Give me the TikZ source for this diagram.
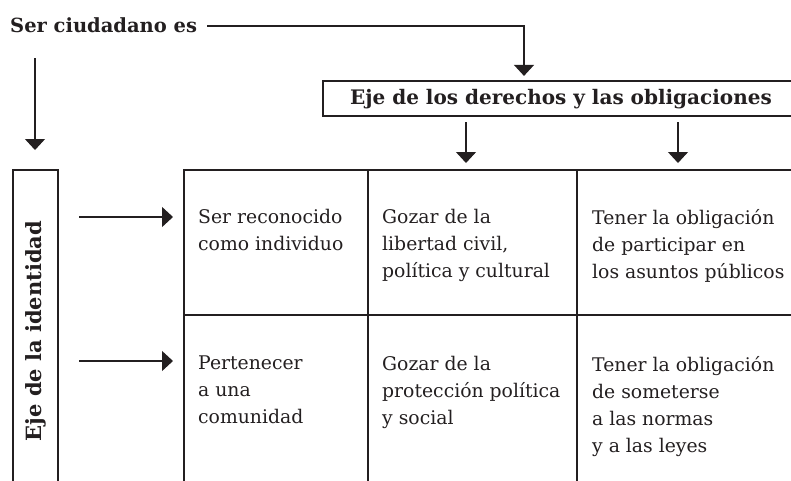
\documentclass[tikz,border=0pt]{standalone}
\usepackage{fontspec}
\setmainfont{DejaVu Serif}
\usetikzlibrary{arrows.meta}
\definecolor{ink}{HTML}{231F20}
\begin{document}
\begin{tikzpicture}[x=1pt,y=-1pt,
  thickln/.style={line width=2.2pt, draw=ink},
  thinln/.style={line width=1.1pt, draw=ink},
  arr/.style={line width=1.1pt, draw=ink, -{Triangle[width=20pt,length=11pt]}},
  cell/.style={anchor=north west, inner sep=0pt, align=left, font=\fontsize{18.8}{27}\selectfont, text=ink},
  head/.style={inner sep=0pt, font=\bfseries\fontsize{20}{22}\selectfont, text=ink}]
\useasboundingbox (0,0) rectangle (791,480);
\clip (0,0) rectangle (791,480);
% title
\node[head, anchor=base west, font=\bfseries\fontsize{19.5}{22}\selectfont] (ser) at (10,32) {Ser ciudadano es};
\coordinate (c1) at (207,26);
\coordinate (c2) at (524,26);
% rights axis box
\node[thickln, draw, minimum width=487pt, minimum height=35pt, inner sep=0pt] (der) at (566.5,98.5) {};
\node[head] (dertxt) at (561,99) {Eje de los derechos y las obligaciones};
\draw[arr] (c1) -- (c2) -- ([yshift=4pt]c2 |- der.north);
% identity box
\coordinate (idtl) at (13,170);
\coordinate (idbr) at (58,500);
\draw[thickln] (idtl |- idbr) -- (idtl) -- (idtl -| idbr) -- (idbr);
\node[head, rotate=90, font=\bfseries\fontsize{21}{22}\selectfont] (idtxt) at (35.5,331) {Eje de la identidad};
\coordinate (a0) at (35,58);
\draw[arr] (a0) -- (35,150);
% table
\coordinate (ttl) at (184,170);
\draw[thinln] (368,170) -- (368,500);
\draw[thinln] (577,170) -- (577,500);
\draw[thinln] (184,315) -- (800,315);
\draw[thickln] (184,500) -- (ttl) -- (800,170);
% arrows from rights box
\draw[arr] ([yshift=-5pt]der.south -| 466,0) -- (466,163);
\draw[arr] ([yshift=-5pt]der.south -| 678,0) -- (678,163);
% arrows to rows
\coordinate (r1s) at (79,217);
\coordinate (r1e) at (173,217);
\coordinate (r2s) at (79,361);
\coordinate (r2e) at (173,361);
\draw[arr] (r1s) -- (r1e);
\draw[arr] (r2s) -- (r2e);
% cells
\node[cell] (c11) at (198,209) {Ser reconocido\\como individuo};
\node[cell] (c12) at (382,209) {Gozar de la\\libertad civil,\\política y cultural};
\node[cell] (c13) at (592,209) {Tener la obligación\\de participar en\\los asuntos públicos};
\node[cell] (c21) at (198,356) {Pertenecer\\a una\\comunidad};
\node[cell] (c22) at (382,356) {Gozar de la\\protección política\\y social};
\node[cell] (c23) at (592,356) {Tener la obligación\\de someterse\\a las normas\\y a las leyes};
\end{tikzpicture}
\end{document}
